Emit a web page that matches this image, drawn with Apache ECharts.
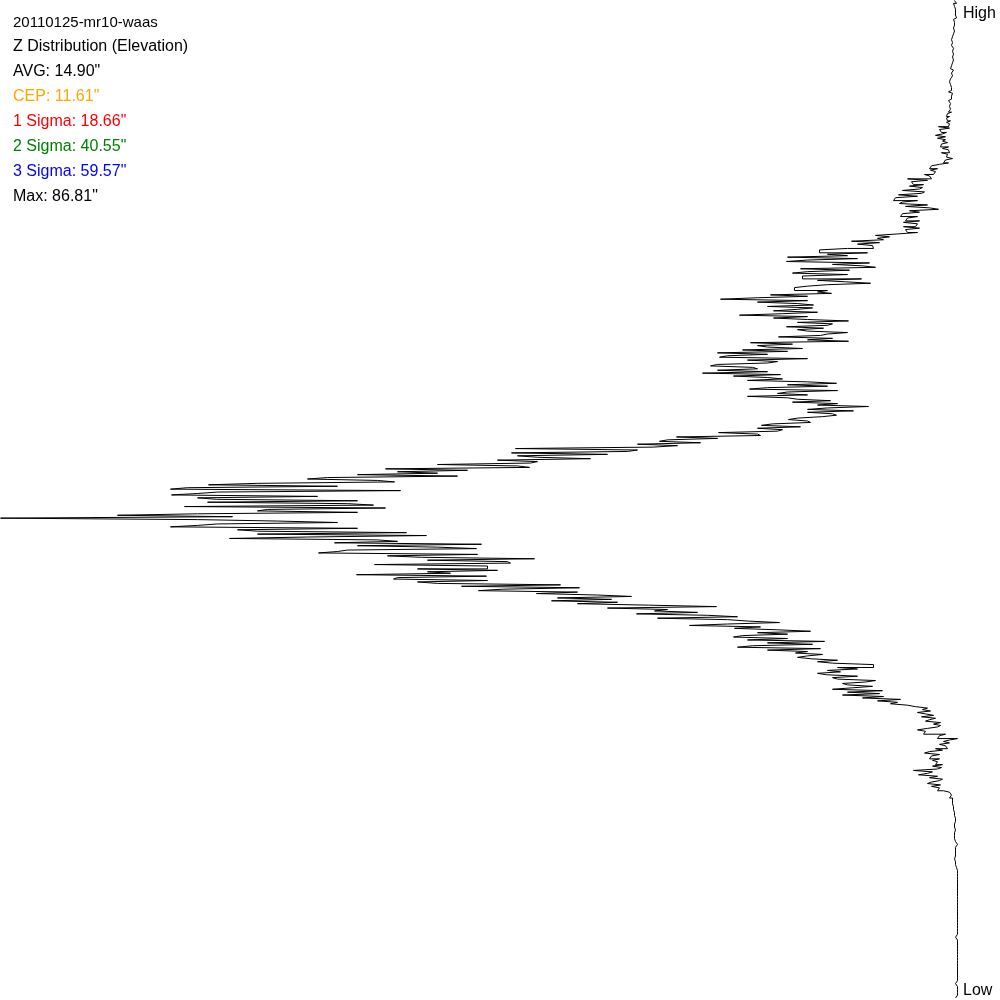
<!DOCTYPE html>
<html>
<head>
<meta charset="utf-8">
<script src="https://cdn.jsdelivr.net/npm/echarts@6/dist/echarts.min.js"></script>
<style>
html,body{margin:0;padding:0;background:#fff;}
#chart{width:1000px;height:1000px;}
</style>
</head>
<body>
<div id="chart"></div>
<script>
// Header texts
var titleLines = [
  {text: '20110125-mr10-waas', color: '#000000'},
  {text: 'Z Distribution (Elevation)', color: '#000000'},
  {text: 'AVG: 14.90"', color: '#000000'},
  {text: 'CEP: 11.61"', color: '#FFA500'},
  {text: '1 Sigma: 18.66"', color: '#FF0000'},
  {text: '2 Sigma: 40.55"', color: '#008000'},
  {text: '3 Sigma: 59.57"', color: '#0000FF'},
  {text: 'Max: 86.81"', color: '#000000'}
];
var axisEnds = ['High', 'Low'];

// Distribution counts per elevation bin, from High (top) to Low (bottom)
var rowsA = [3,4,1,4,3,2,2,3,2,3,2,3,1,3,4,3,4,3,2,4,
             3,3,2,4,5,5,4,6,4,5,4,6,6,4,5,5,5,4,6,5,
             5,4,5,5,4,6,5,7,5,4,6,6,5,7,7,6,8,6,7,5,
             6,4,6,5,9,5,6,8,6,6,9,7,5,8,6,7,6,9,6,10,
             11,8,11,10,7,11,8,9,19,8,18,16,11,15,22,12,20,12,15,10];
var rowsB = [16,17,9,15,9,8,16,10,11,12,5,12,14,9,18,26,28,20,27,22,
             24,33,28,26,50,30,46,44,34,48,35,38,55,33,36,59,40,62,64,40,
             55,58,30,52,28,19,48,38,55,57,40,50,52,38,54,40,42,54,38,52,
             50,40,60,82,68,80,74,106,78,100,85,84,110,138,138,90,130,110,170,100,
             150,171,88,125,95,82,157,108,150,165,110,155,155,96,140,112,87,130,150,163];
var rowsC = [163,130,140,126,187,150,200,237,150,200,160,144,190,145,160,184,140,175,218,150,
             184,150,109,160,125,130,171,134,160,150,110,130,137,179,125,150,109,207,165,200,
             190,155,215,170,240,190,230,238,150,210,180,190,240,247,205,200,240,190,255,177,
             224,190,175,210,150,121,170,130,190,208,120,170,180,150,210,170,160,127,165,120,
             140,89,130,150,104,150,125,121,135,160,169,150,147,185,196,157,200,175,180,239];
var rowsD = [200,197,281,240,290,298,257,320,280,304,442,320,330,446,350,440,420,367,460,420,
             427,520,440,428,572,490,560,520,600,500,630,650,580,563,700,749,620,770,787,557,
             740,760,786,640,760,741,600,750,610,584,773,572,690,700,600,760,840,725,957,760,
             680,620,740,760,787,600,720,700,551,700,531,650,728,580,560,623,476,600,520,481,
             610,620,639,480,570,536,423,530,450,447,583,470,470,540,460,530,507,601,471,560];
var rowsE = [564,470,540,520,397,496,378,455,479,380,421,360,326,400,346,406,340,380,309,241,
             350,290,303,260,321,250,220,300,230,209,178,230,268,197,223,180,147,200,170,215,
             224,170,210,133,190,145,205,220,137,190,150,162,135,150,160,146,120,140,125,84,
             84,120,100,130,117,140,131,100,125,120,82,92,115,110,85,105,125,75,110,78,
             115,74,95,57,80,60,67,50,42,30,35,27,40,32,24,36,22,28,32,17];
var rowsF = [24,17,20,30,40,32,34,12,18,20,0,8,14,8,18,12,10,22,15,28,
             33,18,26,28,18,25,20,22,15,25,16,20,44,25,30,39,20,28,15,18,
             26,30,17,26,18,20,14,8,6,4,8,5,5,3,5,4,4,2,4,3,
             3,2,3,4,2,3,2,1,3,1,3,4,2,2,3,2,3,2,3,1,
             2,2,0,1,2,3,2,1,2,1,2,1,3,1,2,1,2,0,1,0];
var rowsG = [0,0,0,0,0,0,0,0,0,0,0,0,0,0,0,0,0,0,0,0,
             0,0,0,0,0,0,0,0,0,0,0,0,0,0,0,0,0,0,0,0,
             0,0,0,0,0,0,2,0,0,0,0,0,0,0,0,0,0,0,0,0,
             0,0,0,0,0,0,0,0,0,0,0,0,0,0,0,0,0,0,2,0,
             0,0,0,0,0,0,0,0,2];

var counts = [].concat(rowsA, rowsB, rowsC, rowsD, rowsE, rowsF, rowsG);
var bins = counts.map(function (_, i) { return String(i); });

var chart = echarts.init(document.getElementById('chart'), null, {renderer: 'canvas'});

var FONT = '"Liberation Sans", Arial, sans-serif';
var graphics = titleLines.map(function (t, i) {
  return {
    type: 'text',
    left: 13,
    top: (i === 0 ? 15 : 14 + i * 25),
    style: {
      text: t.text,
      fill: t.color,
      font: (i === 0 ? '15px ' : '16px ') + FONT
    }
  };
});
graphics.push({
  type: 'text', left: 963, top: 6,
  style: {text: axisEnds[0], fill: '#000', font: '16px ' + FONT}
});
graphics.push({
  type: 'text', left: 963, top: 983,
  style: {text: axisEnds[1], fill: '#000', font: '16px ' + FONT}
});

chart.setOption({
  animation: false,
  backgroundColor: '#ffffff',
  grid: {left: 0.5, width: 957, top: 0.5, height: 997.6, containLabel: false},
  xAxis: {
    type: 'value', inverse: true, min: 0, max: 957, show: false
  },
  yAxis: {
    type: 'category', data: bins, inverse: true, boundaryGap: false, show: false
  },
  series: [{
    type: 'line',
    data: counts,
    step: 'start',
    showSymbol: false,
    symbol: 'none',
    silent: true,
    lineStyle: {color: '#000000', width: 1},
    clip: false
  }],
  graphic: graphics
});
</script>
</body>
</html>
